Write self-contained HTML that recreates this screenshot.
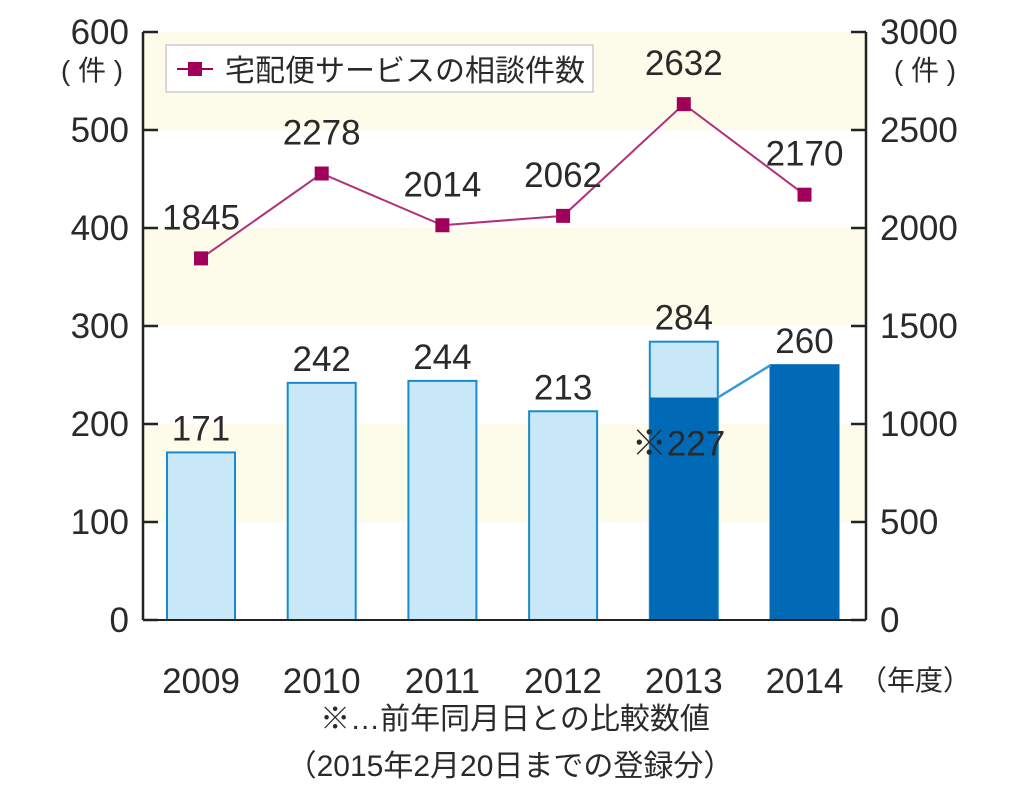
<!DOCTYPE html>
<html><head><meta charset="utf-8"><style>
body{margin:0;background:#fff}
svg text{font-family:"Liberation Sans","Noto Sans CJK JP",sans-serif;fill:#2a2a2a}
</style></head><body>
<svg width="1024" height="802" xmlns="http://www.w3.org/2000/svg">
<g id="bands"></g>
<g id="bars"></g>
<g id="line"></g>
<g id="axes"></g>
<g>
<rect x="166" y="45" width="427" height="47" fill="#fff" stroke="#ccc" stroke-width="1.5"/>
<line x1="177" y1="69" x2="213" y2="69" stroke="#a0005a" stroke-width="2"/>
<rect x="188" y="62" width="14" height="14" fill="#a0005a"/>
<text x="225" y="81" font-size="30">宅配便サービスの相談件数</text>
</g>
<text x="515" y="729" font-size="30" text-anchor="middle">※…前年同月日との比較数値</text>
<text x="510" y="776" font-size="30" text-anchor="middle">（2015年2月20日までの登録分）</text>
</svg>
<script>
const categories=["2009","2010","2011","2012","2013","2014"];
const barValues=[171,242,244,213,284,260];
const barDark=[0,0,0,0,227,260];
const lineValues=[1845,2278,2014,2062,2632,2170];
const leftTicks=[0,100,200,300,400,500,600];
const rightTicks=[0,500,1000,1500,2000,2500,3000];
const NS="http://www.w3.org/2000/svg";
const X0=143,X1=866,Y0=620,Y1=32;
const yL=v=>Y0-(v/600)*(Y0-Y1);
const yR=v=>Y0-(v/3000)*(Y0-Y1);
const xC=i=>201+i*120.7;
const BW=68;
function mk(tag,attrs,parent,txt){const e=document.createElementNS(NS,tag);for(const k in attrs)e.setAttribute(k,attrs[k]);if(txt!==undefined)e.textContent=txt;document.getElementById(parent).appendChild(e);return e;}
[[500,600],[300,400],[100,200]].forEach(b=>{
const r=mk('rect',{x:X0,y:yL(b[1]),width:X1-X0,height:yL(b[0])-yL(b[1]),fill:'#fdfbe9'},'bands');


});
categories.forEach((c,i)=>{
const x=xC(i)-BW/2;
const full=barDark[i]>=barValues[i];
const r=mk('rect',{x:x,y:yL(barValues[i]),width:BW,height:Y0-yL(barValues[i]),fill:full?'#006ab6':'#c8e8f7',stroke:full?'#006ab6':'#1a8ad0','stroke-width':2},'bars');


if(barDark[i]>0&&barDark[i]<barValues[i]){
const d=mk('rect',{x:x,y:yL(barDark[i]),width:BW,height:Y0-yL(barDark[i]),fill:'#006ab6'},'bars');


const lt=mk('text',{x:xC(i)-52,y:yL(barDark[i])+58,'font-size':35},'bars','※'+barDark[i]);


}
const t=mk('text',{x:xC(i),y:yL(barValues[i])-12,'font-size':35,'text-anchor':'middle'},'bars',String(barValues[i]));


const yl=mk('text',{x:xC(i),y:693,'font-size':35,'text-anchor':'middle'},'bars',c);


});
const cl=mk('polyline',{points:`${xC(4)+BW/2},${yL(barDark[4])} ${xC(5)-BW/2},${yL(barDark[5])}`,fill:'none',stroke:'#3a9ad9','stroke-width':2.5},'bars');


const pts=lineValues.map((v,i)=>xC(i)+','+yR(v)).join(' ');
const pl=mk('polyline',{points:pts,fill:'none',stroke:'#b0307a','stroke-width':2},'line');


lineValues.forEach((v,i)=>{
const m=mk('rect',{x:xC(i)-7,y:yR(v)-7,width:14,height:14,fill:'#a0005a'},'line');


const t=mk('text',{x:xC(i),y:yR(v)-29,'font-size':35,'text-anchor':'middle'},'line',String(v));


});
const la=mk('line',{x1:X0,y1:Y1,x2:X0,y2:Y0,stroke:'#222','stroke-width':2.5},'axes');


const ra=mk('line',{x1:X1,y1:Y1,x2:X1,y2:Y0,stroke:'#222','stroke-width':2.5},'axes');


const ba=mk('line',{x1:X0,y1:Y0,x2:X1,y2:Y0,stroke:'#222','stroke-width':2},'axes');


leftTicks.forEach(v=>{
const tk=mk('line',{x1:X0,y1:yL(v),x2:X0+15,y2:yL(v),stroke:'#222','stroke-width':2.5},'axes');


const t=mk('text',{x:129,y:yL(v)+12,'font-size':35,'text-anchor':'end'},'axes',String(v));


});
rightTicks.forEach(v=>{
const tk=mk('line',{x1:X1-15,y1:yR(v),x2:X1,y2:yR(v),stroke:'#222','stroke-width':2.5},'axes');


const t=mk('text',{x:880,y:yR(v)+12,'font-size':35},'axes',String(v));


});
const lu=mk('text',{x:92,y:80,'font-size':28,'text-anchor':'middle'},'axes','( 件 )');


const ru=mk('text',{x:925,y:80,'font-size':28,'text-anchor':'middle'},'axes','( 件 )');


const xu=mk('text',{x:915,y:690,'font-size':28,'text-anchor':'middle'},'axes','（年度）');


</script>
</body></html>
